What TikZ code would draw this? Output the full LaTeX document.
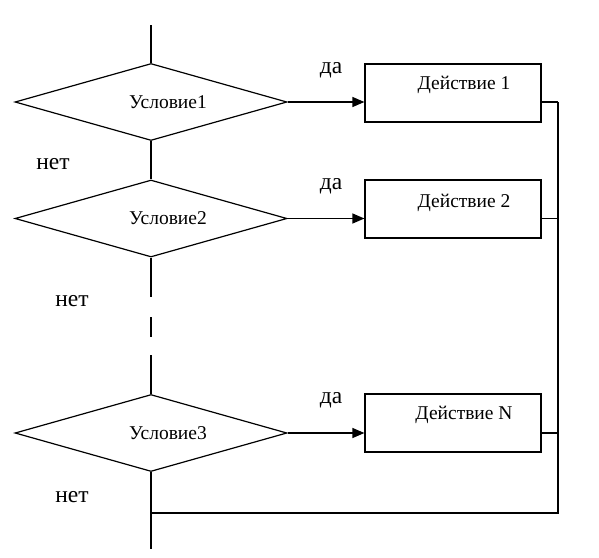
\documentclass[tikz,border=0pt]{standalone}
\usepackage{fontspec}
\setmainfont{Liberation Serif}
\usetikzlibrary{shapes.geometric,arrows.meta}
\tikzset{
  cond/.style={draw,diamond,minimum width=272pt,minimum height=77pt,inner sep=0pt,line width=1.2pt},
  act/.style={draw,rectangle,minimum width=176pt,minimum height=58pt,inner sep=0pt,line width=1.2pt},
  lbl/.style={font=\fontsize{19.5}{22}\selectfont,inner sep=0pt},
  big/.style={font=\fontsize{23.5}{27}\selectfont,inner sep=0pt},
  ln/.style={line width=1.2pt},
  arr/.style={line width=1.2pt,-{Triangle[length=12pt,width=10pt]}}
}
\begin{document}
\begin{tikzpicture}[x=1pt,y=-1pt]
\useasboundingbox (0,0) rectangle (599,557);
\node[cond] (d1) at (151,102) {};
\node[cond] (d2) at (151,218.5) {};
\node[cond] (d3) at (151,433) {};
\node[lbl] (t1) at (168,102) {Условие1};
\node[lbl] (t2) at (168,218) {Условие2};
\node[lbl] (t3) at (168,433) {Условие3};
\node[act] (a1) at (453,93) {};
\node[act] (a2) at (453,209) {};
\node[act] (a3) at (453,423) {};
\node[lbl] (s1) at (464,85) {Действие 1};
\node[lbl] (s2) at (464,203) {Действие 2};
\node[lbl] (s3) at (464,415) {Действие N};
\node[big] (y1) at (331,70) {да};
\node[big] (y2) at (331,186) {да};
\node[big] (y3) at (331,400) {да};
\node[big] (n1) at (53,164) {нет};
\node[big] (n2) at (72,301) {нет};
\node[big] (n3) at (72,497) {нет};
\coordinate (top) at (151,25);
\coordinate (bot) at (151,549);
\coordinate (g1) at (151,297);
\coordinate (g2) at (151,317);
\coordinate (g3) at (151,337);
\coordinate (g4) at (151,355);
\coordinate (j) at (151,513);
\coordinate (r1) at (558,102);
\coordinate (r2) at (558,218.5);
\coordinate (r3) at (558,433);
\coordinate (rb) at (558,513);
\draw[ln] (top) -- (d1.north);
\draw[ln] (d1.south) -- (d2.north);
\draw[ln] (d2.south) -- (g1);
\draw[ln] (g2) -- (g3);
\draw[ln] (g4) -- (d3.north);
\draw[ln] (d3.south) -- (bot);
\draw[arr] (d1.east) -- (d1.east -| a1.west);
\draw[arr] (d2.east) -- (d2.east -| a2.west);
\draw[arr] (d3.east) -- (d3.east -| a3.west);
\draw[ln] (r1 -| a1.east) -- (r1);
\draw[ln] (r2 -| a2.east) -- (r2);
\draw[ln] (r3 -| a3.east) -- (r3);
\draw[ln] (r1) -- (rb) -- (j);
\end{tikzpicture}
\end{document}
